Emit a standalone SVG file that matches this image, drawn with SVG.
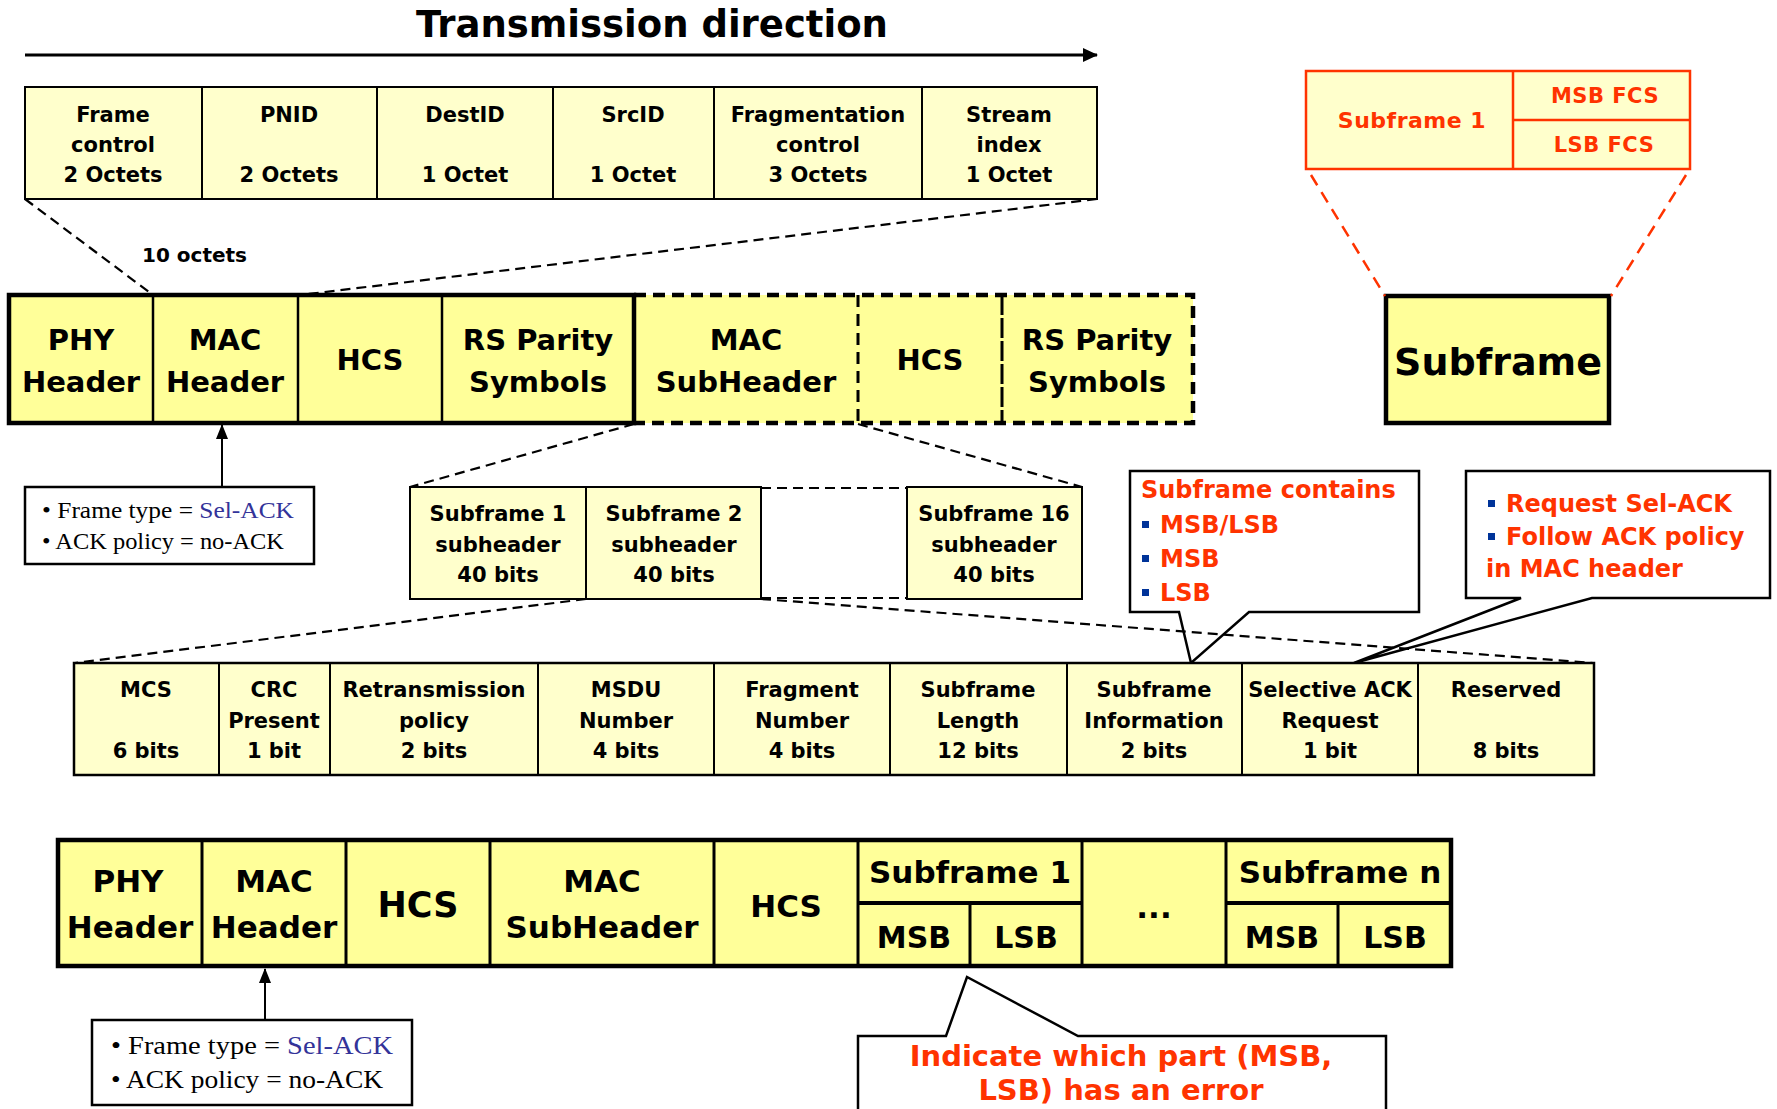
<svg xmlns="http://www.w3.org/2000/svg" width="1777" height="1109" viewBox="0 0 1777 1109">
<defs>
<style>
.b{font-family:'DejaVu Sans',Verdana,sans-serif;font-weight:bold;text-anchor:middle;fill:#000}
.l{text-anchor:start}
.f20{font-size:20px}
.f21{font-size:21px}
.f22{font-size:22px}
.f24{font-size:24px}
.f29{font-size:29px}
.f31{font-size:31px}
.red{fill:#FF3300}
.lt{fill:#FFFFCC}
.yl{fill:#FFFF99}
.s2{stroke:#000;stroke-width:2}
.div{stroke:#000;stroke-width:2.5}
.div3{stroke:#000;stroke-width:3}
.dash{fill:none;stroke:#000;stroke-width:2.2;stroke-dasharray:10 6}
.rdash{fill:none;stroke:#FF3300;stroke-width:2.5;stroke-dasharray:12 8}
.serif{font-family:'Liberation Serif','Times New Roman',serif;fill:#000}
.blue{fill:#333399}
.call{fill:#fff;stroke:#000;stroke-width:2.5}
.bul{fill:#003399}
</style>
<marker id="big" markerUnits="userSpaceOnUse" markerWidth="16" markerHeight="16" refX="14" refY="8" orient="auto">
<path d="M0,1 L15,8 L0,15 Z" fill="#000"/>
</marker>
<marker id="sm" markerUnits="userSpaceOnUse" markerWidth="16" markerHeight="16" refX="14" refY="8" orient="auto">
<path d="M0,2 L15,8 L0,14 Z" fill="#000"/>
</marker>
</defs>
<rect width="1777" height="1109" fill="#fff"/>

<g id="title">
<text class="b" x="652" y="37" style="font-size:37px">Transmission direction</text>
</g>

<g id="mac-header-fields">
<rect class="lt s2" x="25" y="87" width="1072" height="112"/>
<line class="s2" x1="202" y1="87" x2="202" y2="199"/>
<line class="s2" x1="377" y1="87" x2="377" y2="199"/>
<line class="s2" x1="553" y1="87" x2="553" y2="199"/>
<line class="s2" x1="714" y1="87" x2="714" y2="199"/>
<line class="s2" x1="922" y1="87" x2="922" y2="199"/>
<g class="b f21">
<text x="113" y="122">Frame</text><text x="113" y="152">control</text><text x="113" y="182">2 Octets</text>
<text x="289" y="122">PNID</text><text x="289" y="182">2 Octets</text>
<text x="465" y="122">DestID</text><text x="465" y="182">1 Octet</text>
<text x="633" y="122">SrcID</text><text x="633" y="182">1 Octet</text>
<text x="818" y="122">Fragmentation</text><text x="818" y="152">control</text><text x="818" y="182">3 Octets</text>
<text x="1009" y="122">Stream</text><text x="1009" y="152">index</text><text x="1009" y="182">1 Octet</text>
</g>
</g>

<g id="octets-label">
<text class="b l f20" x="142" y="262">10 octets</text>
</g>

<g id="subframe-fcs">
<rect x="1306" y="71" width="384" height="98" fill="#FFFFCC" stroke="#FF3300" stroke-width="2.5"/>
<line x1="1513" y1="71" x2="1513" y2="169" stroke="#FF3300" stroke-width="2.5"/>
<line x1="1513" y1="120" x2="1690" y2="120" stroke="#FF3300" stroke-width="2.5"/>
<text class="b red f22" x="1412" y="128" style="letter-spacing:0.5px">Subframe 1</text>
<text class="b red f21" x="1605" y="103" style="letter-spacing:0.5px">MSB FCS</text>
<text class="b red f21" x="1604" y="152" style="letter-spacing:0.5px">LSB FCS</text>
</g>

<g id="frame">
<rect class="yl" x="9" y="295" width="1184" height="128"/>
<rect x="9" y="295" width="625" height="128" fill="none" stroke="#000" stroke-width="4.5"/>
<path d="M634,295 H1193 V423 H634" fill="none" stroke="#000" stroke-width="4.5" stroke-dasharray="12 7"/>
<line class="div" x1="153" y1="295" x2="153" y2="423"/>
<line class="div" x1="298" y1="295" x2="298" y2="423"/>
<line class="div" x1="442" y1="295" x2="442" y2="423"/>
<line x1="858" y1="295" x2="858" y2="423" stroke="#000" stroke-width="3" stroke-dasharray="12 7"/>
<line x1="1002" y1="295" x2="1002" y2="423" stroke="#000" stroke-width="3" stroke-dasharray="20 3"/>
<g class="b f29">
<text x="81" y="350">PHY</text><text x="81" y="392">Header</text>
<text x="225" y="350">MAC</text><text x="225" y="392">Header</text>
<text x="370" y="370">HCS</text>
<text x="538" y="350">RS Parity</text><text x="538" y="392">Symbols</text>
<text x="746" y="350">MAC</text><text x="746" y="392">SubHeader</text>
<text x="930" y="370">HCS</text>
<text x="1097" y="350">RS Parity</text><text x="1097" y="392">Symbols</text>
</g>
</g>

<g id="subframe">
<rect class="yl" x="1386" y="296" width="223" height="127" stroke="#000" stroke-width="4.5"/>
<text class="b" x="1498" y="375" style="font-size:38px">Subframe</text>
</g>

<g id="note-top">
<rect class="call" x="25" y="487" width="289" height="77"/>
<text class="serif" x="42" y="518" style="font-size:23px" textLength="252" lengthAdjust="spacingAndGlyphs">• Frame type = <tspan class="blue">Sel-ACK</tspan></text>
<text class="serif" x="42" y="549" style="font-size:23px" textLength="242" lengthAdjust="spacingAndGlyphs">• ACK policy = no-ACK</text>
</g>

<g id="subheaders">
<rect class="lt s2" x="410" y="487" width="351" height="112"/>
<line class="s2" x1="586" y1="487" x2="586" y2="599"/>
<rect class="lt s2" x="907" y="487" width="175" height="112"/>
<g class="b f21">
<text x="498" y="521">Subframe 1</text><text x="498" y="552">subheader</text><text x="498" y="582">40 bits</text>
<text x="674" y="521">Subframe 2</text><text x="674" y="552">subheader</text><text x="674" y="582">40 bits</text>
<text x="994" y="521">Subframe 16</text><text x="994" y="552">subheader</text><text x="994" y="582">40 bits</text>
</g>
</g>

<g id="callout-info">
<path class="call" d="M1179,612 L1130,612 L1130,471 L1419,471 L1419,612 L1249,612 L1191,663 Z"/>
<text class="b l red f24" x="1141" y="498">Subframe contains</text>
<rect class="bul" x="1142" y="521" width="7" height="7"/>
<rect class="bul" x="1142" y="555" width="7" height="7"/>
<rect class="bul" x="1142" y="589" width="7" height="7"/>
<text class="b l red f24" x="1160" y="533">MSB/LSB</text>
<text class="b l red f24" x="1160" y="567">MSB</text>
<text class="b l red f24" x="1160" y="601">LSB</text>
</g>

<g id="callout-selack">
<path class="call" d="M1521,598 L1466,598 L1466,471 L1770,471 L1770,598 L1592,598 L1354,663 Z"/>
<rect class="bul" x="1488" y="500" width="7" height="7"/>
<rect class="bul" x="1488" y="533" width="7" height="7"/>
<text class="b l red f24" x="1506" y="512">Request Sel-ACK</text>
<text class="b l red f24" x="1506" y="545">Follow ACK policy</text>
<text class="b l red f24" x="1486" y="577">in MAC header</text>
</g>

<g id="subheader-fields">
<rect class="lt" x="74" y="663" width="1520" height="112" stroke="#000" stroke-width="2.5"/>
<line class="s2" x1="219" y1="663" x2="219" y2="775"/>
<line class="s2" x1="330" y1="663" x2="330" y2="775"/>
<line class="s2" x1="538" y1="663" x2="538" y2="775"/>
<line class="s2" x1="714" y1="663" x2="714" y2="775"/>
<line class="s2" x1="890" y1="663" x2="890" y2="775"/>
<line class="s2" x1="1067" y1="663" x2="1067" y2="775"/>
<line class="s2" x1="1242" y1="663" x2="1242" y2="775"/>
<line class="s2" x1="1418" y1="663" x2="1418" y2="775"/>
<g class="b f21">
<text x="146" y="697">MCS</text><text x="146" y="758">6 bits</text>
<text x="274" y="697">CRC</text><text x="274" y="728">Present</text><text x="274" y="758">1 bit</text>
<text x="434" y="697">Retransmission</text><text x="434" y="728">policy</text><text x="434" y="758">2 bits</text>
<text x="626" y="697">MSDU</text><text x="626" y="728">Number</text><text x="626" y="758">4 bits</text>
<text x="802" y="697">Fragment</text><text x="802" y="728">Number</text><text x="802" y="758">4 bits</text>
<text x="978" y="697">Subframe</text><text x="978" y="728">Length</text><text x="978" y="758">12 bits</text>
<text x="1154" y="697">Subframe</text><text x="1154" y="728">Information</text><text x="1154" y="758">2 bits</text>
<text x="1330" y="697">Selective ACK</text><text x="1330" y="728">Request</text><text x="1330" y="758">1 bit</text>
<text x="1506" y="697">Reserved</text><text x="1506" y="758">8 bits</text>
</g>
</g>

<g id="selack-frame">
<rect class="yl" x="58" y="840" width="1393" height="126" stroke="#000" stroke-width="4.5"/>
<line class="div3" x1="202" y1="840" x2="202" y2="966"/>
<line class="div3" x1="346" y1="840" x2="346" y2="966"/>
<line class="div3" x1="490" y1="840" x2="490" y2="966"/>
<line class="div3" x1="714" y1="840" x2="714" y2="966"/>
<line class="div3" x1="858" y1="840" x2="858" y2="966"/>
<line class="div3" x1="1082" y1="840" x2="1082" y2="966"/>
<line class="div3" x1="1226" y1="840" x2="1226" y2="966"/>
<line x1="858" y1="903" x2="1082" y2="903" stroke="#000" stroke-width="4"/>
<line x1="1226" y1="903" x2="1451" y2="903" stroke="#000" stroke-width="4"/>
<line class="div3" x1="970" y1="903" x2="970" y2="966"/>
<line class="div3" x1="1338" y1="903" x2="1338" y2="966"/>
<g class="b f31">
<text x="128" y="892">PHY</text><text x="130" y="938">Header</text>
<text x="274" y="892">MAC</text><text x="274" y="938">Header</text>
<text x="418" y="917" style="font-size:35px">HCS</text>
<text x="602" y="892">MAC</text><text x="602" y="938">SubHeader</text>
<text x="786" y="917">HCS</text>
<text x="970" y="883">Subframe 1</text>
<text x="914" y="948" style="font-size:30px">MSB</text>
<text x="1026" y="948" style="font-size:30px">LSB</text>
<text x="1154" y="918">...</text>
<text x="1340" y="883">Subframe n</text>
<text x="1282" y="948" style="font-size:30px">MSB</text>
<text x="1395" y="948" style="font-size:30px">LSB</text>
</g>
</g>

<g id="note-bottom">
<rect class="call" x="92" y="1020" width="320" height="85"/>
<text class="serif" x="111" y="1054" style="font-size:26px" textLength="282" lengthAdjust="spacingAndGlyphs">• Frame type = <tspan class="blue">Sel-ACK</tspan></text>
<text class="serif" x="111" y="1088" style="font-size:26px" textLength="272" lengthAdjust="spacingAndGlyphs">• ACK policy = no-ACK</text>
</g>

<g id="callout-error">
<path class="call" d="M946,1036 L858,1036 L858,1115 L1386,1115 L1386,1036 L1078,1036 L967,977 Z"/>
<text class="b red f29" x="1121" y="1066">Indicate which part (MSB,</text>
<text class="b red f29" x="1121" y="1100">LSB) has an error</text>
</g>

<g id="connectors">
<line x1="25" y1="55" x2="1097" y2="55" stroke="#000" stroke-width="3" marker-end="url(#big)"/>
<line class="dash" x1="25" y1="199" x2="153" y2="295"/>
<line class="dash" x1="1097" y1="199" x2="300" y2="295"/>
<line class="rdash" x1="1311" y1="175" x2="1385" y2="296"/>
<line class="rdash" x1="1686" y1="175" x2="1611" y2="296"/>
<line x1="222" y1="487" x2="222" y2="425" stroke="#000" stroke-width="2" marker-end="url(#sm)"/>
<line class="dash" x1="634" y1="424" x2="410" y2="487"/>
<line class="dash" x1="858" y1="424" x2="1082" y2="487"/>
<line class="dash" x1="761" y1="488" x2="907" y2="488"/>
<line class="dash" x1="761" y1="598" x2="907" y2="598"/>
<line class="dash" x1="586" y1="599" x2="75" y2="663"/>
<line class="dash" x1="761" y1="599" x2="1593" y2="663"/>
<line x1="265" y1="1020" x2="265" y2="969" stroke="#000" stroke-width="2" marker-end="url(#sm)"/>
</g>
</svg>
